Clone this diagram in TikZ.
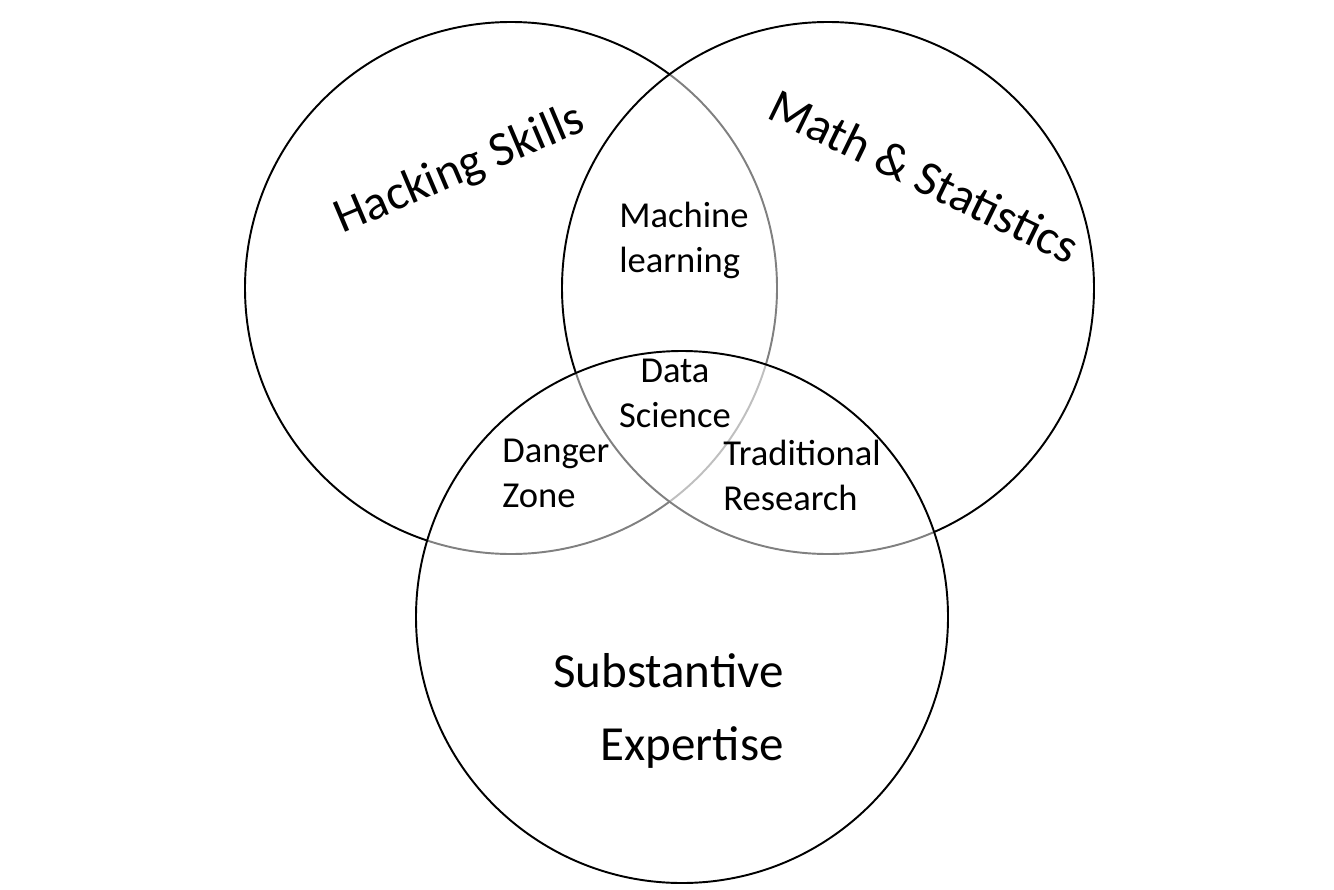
\documentclass[tikz,border=0pt]{standalone}
\usepackage{fontspec}
\setmainfont{Carlito}
\usepackage{tikz}
\usetikzlibrary{positioning}

\tikzset{
    set/.style={draw=black, line width=1.1pt, fill=white, fill opacity=0.5, text opacity=1},
    setname/.style={inner sep=0pt, font=\fontsize{27.9}{41.5}\selectfont},
    overlap/.style={inner sep=0pt, font=\fontsize{20.8}{25.3}\selectfont},
}

\begin{document}
\begin{tikzpicture}[x=0.02cm, y=0.02cm]
    \useasboundingbox (0,0) rectangle (1334,-889);

    % 1. Ba hình tròn (vẽ lần lượt, tô trắng nửa trong suốt)
    \path[set] (511,-288) circle (266);
    \path[set] (828,-288) circle (266);
    \path[set] (682,-617) circle (266);

    % 2. Tên các tập hợp
    \node[setname, rotate=23, anchor=base] (hack) at (465,-182) {Hacking Skills};
    \node[setname, rotate=-26, anchor=base] (math) at (917,-191) {Math \& Statistics};
    \node[setname, align=right, anchor=base east] (subs) at (784,-760) {Substantive\\Expertise};

    % 3. Các phần giao nhau (mốc = đường chân dòng cuối)
    \node[overlap, align=left, anchor=base west] (ml) at (619,-272) {Machine\\learning};
    \node[overlap, align=center, anchor=base] (ds) at (675,-427) {Data\\Science};
    \node[overlap, align=left, anchor=base west] (dz) at (502,-507) {Danger\\Zone};
    \node[overlap, align=left, anchor=base west] (tr) at (723,-510) {Traditional\\Research};

\end{tikzpicture}
\end{document}
